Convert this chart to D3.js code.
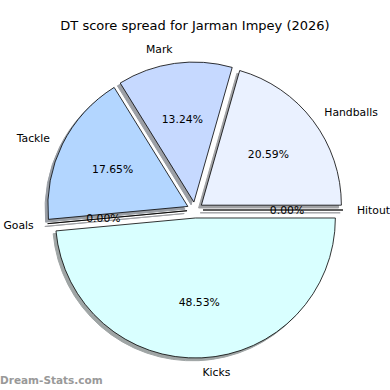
<!DOCTYPE html>
<html>
<head>
<meta charset="utf-8">
<script src="https://cdn.jsdelivr.net/npm/d3@7"></script>
<style>
  body { margin: 0; background: #fff; }
  text { font-family: "DejaVu Sans", sans-serif; }
</style>
</head>
<body>
<div id="chart"></div>
<script>
// slice data, counter-clockwise from 3 o'clock
var categories = ["Handballs", "Mark", "Tackle", "Goals", "Kicks", "Hitout"];
var values = [14, 9, 12, 0, 33, 0];
var colors = ["#eaf1ff", "#c6d9ff", "#b3d6ff", "#dde6ff", "#d9ffff", "#e6f0ff"];

var svgWidth = 390;
var svgHeight = 390;
var cx = 195, cy = 210;
var radius = 140;
var explode = 8;

var svg = d3.select("#chart").append("svg")
    .attr("width", svgWidth)
    .attr("height", svgHeight);

svg.append("rect").attr("width", svgWidth).attr("height", svgHeight).attr("fill", "#fff");

svg.append("text")
    .attr("x", svgWidth / 2)
    .attr("y", 30)
    .attr("text-anchor", "middle")
    .attr("font-size", "13px")
    .text("DT score spread for Jarman Impey (2026)");

var data = categories.map(function(c, i) {
  return {name: c, value: values[i], color: colors[i]};
});
var total = d3.sum(values);

// d3 angles run clockwise from 12 o'clock; go the other way from 3 o'clock
var pie = d3.pie()
    .sort(null)
    .value(d => d.value)
    .startAngle(Math.PI / 2)
    .endAngle(Math.PI / 2 - 2 * Math.PI);

var arcs = pie(data);
var arc = d3.arc().innerRadius(0).outerRadius(radius);

function mid(d) { return (d.startAngle + d.endAngle) / 2; }
function offset(d, r) {
  var a = mid(d);
  return [Math.sin(a) * r, -Math.cos(a) * r];
}

var g = svg.append("g").attr("transform", `translate(${cx}, ${cy})`);

// shadows first, under every wedge
g.selectAll("path.shadow")
    .data(arcs)
    .enter()
    .append("path")
    .attr("class", "shadow")
    .attr("d", arc)
    .attr("transform", function(d) {
      var o = offset(d, explode);
      return `translate(${o[0] - 2.8}, ${o[1] + 2.8})`;
    })
    .attr("fill", function(d) {
      var c = d3.rgb(d.data.color);
      return d3.rgb(c.r * 0.3, c.g * 0.3, c.b * 0.3);
    })
    .attr("stroke", function(d) {
      var c = d3.rgb(d.data.color);
      return d3.rgb(c.r * 0.3, c.g * 0.3, c.b * 0.3);
    })
    .attr("stroke-width", 1)
    .attr("opacity", 0.5);

g.selectAll("path.wedge")
    .data(arcs)
    .enter()
    .append("path")
    .attr("class", "wedge")
    .attr("d", arc)
    .attr("transform", function(d) {
      var o = offset(d, explode);
      return `translate(${o[0]}, ${o[1]})`;
    })
    .attr("fill", d => d.data.color)
    .attr("stroke", "#000")
    .attr("stroke-width", 0.8)
    .attr("stroke-linejoin", "round");

// category labels
g.selectAll("text.label")
    .data(arcs)
    .enter()
    .append("text")
    .attr("class", "label")
    .attr("x", d => offset(d, explode + radius * 1.1)[0])
    .attr("y", d => offset(d, explode + radius * 1.1)[1])
    .attr("dy", "0.35em")
    .attr("text-anchor", d => offset(d, 1)[0] > 0 ? "start" : "end")
    .attr("font-size", "10.8px")
    .text(d => d.data.name);

// percentage labels
g.selectAll("text.pct")
    .data(arcs)
    .enter()
    .append("text")
    .attr("class", "pct")
    .attr("x", d => offset(d, explode + radius * 0.6)[0])
    .attr("y", d => offset(d, explode + radius * 0.6)[1])
    .attr("dy", "0.35em")
    .attr("text-anchor", "middle")
    .attr("font-size", "10.8px")
    .text(d => (d.data.value / total * 100).toFixed(2) + "%");

svg.append("text")
    .attr("x", 0)
    .attr("y", 384)
    .attr("font-size", "10.5px")
    .attr("font-weight", "bold")
    .attr("fill", "#999")
    .text("Dream-Stats.com");
</script>
</body>
</html>
